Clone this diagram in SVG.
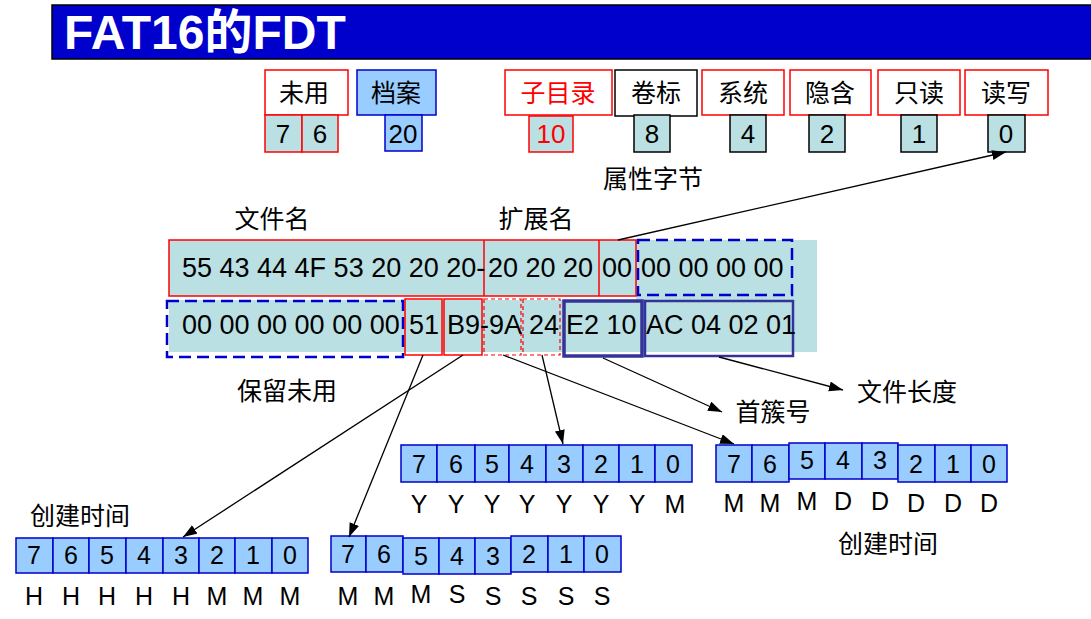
<svg xmlns="http://www.w3.org/2000/svg" width="1091" height="619" viewBox="0 0 1091 619">
<style>
.cjk{font-family:"Noto Sans CJK SC","Noto Sans",sans-serif;font-size:25px;fill:#000;text-anchor:middle}
.lbl{font-family:"Noto Sans CJK SC","Noto Sans",sans-serif;font-size:25px;fill:#000;text-anchor:middle}
.num{font-family:"Liberation Sans",Arial,sans-serif;font-size:26px;fill:#000;text-anchor:middle}
.hex{font-family:"Liberation Sans",Arial,sans-serif;font-size:27px;fill:#000}
.bit{font-family:"Liberation Sans",Arial,sans-serif;font-size:25px;fill:#000;text-anchor:middle}
.red{fill:#FF0000}
.teal{fill:#BAE0E3}
.rbox{fill:#fff;stroke:#FF0000;stroke-width:1.5}
.rval{fill:#BAE0E3;stroke:#FF0000;stroke-width:1.5}
.kval{fill:#BAE0E3;stroke:#000;stroke-width:1.5}
.bbox{fill:#99CCFF;stroke:#0000CC;stroke-width:1.5}
.cell{fill:#99CCFF;stroke:#0000CC;stroke-width:1.5}
.conn{stroke:#000;stroke-width:1.3;fill:none;marker-end:url(#ah)}
</style>
<defs>
<marker id="ah" markerUnits="userSpaceOnUse" markerWidth="16" markerHeight="12" refX="14" refY="5" orient="auto">
<path d="M0,0 L14,5 L0,10 Z" fill="#000"/>
</marker>
</defs>

<g id="title">
<rect x="52" y="5" width="1045" height="54" fill="#0000CC" stroke="#000" stroke-width="1.5"/>
<text x="64" y="49" font-family="'Liberation Sans','Noto Sans CJK SC',Arial,sans-serif" font-size="48" font-weight="bold" fill="#fff">FAT16的FDT</text>
</g>

<g id="attr-unused">
<rect class="rbox" x="265" y="70" width="83" height="45"/>
<text class="cjk" x="304" y="102">未用</text>
<rect class="rval" x="265" y="115" width="37" height="37"/>
<rect class="rval" x="302" y="115" width="36" height="37"/>
<text class="num" x="283" y="143">7</text>
<text class="num" x="320" y="143">6</text>
</g>
<g id="attr-archive">
<rect class="bbox" x="357" y="70" width="79" height="45"/>
<text class="cjk" x="396" y="102">档案</text>
<rect class="bbox" x="385" y="115" width="37" height="36"/>
<text class="num" x="403" y="143">20</text>
</g>
<g id="attr-subdir">
<rect class="rbox" x="505" y="70" width="107" height="45"/>
<text class="cjk red" x="558" y="102">子目录</text>
<rect class="rval" x="529" y="116" width="44" height="36"/>
<text class="num red" x="551" y="143">10</text>
</g>
<g id="attr-volume">
<rect x="615" y="70" width="82" height="46" fill="#fff" stroke="#000" stroke-width="1.5"/>
<text class="cjk" x="656" y="102">卷标</text>
<rect class="kval" x="634" y="115" width="36" height="37"/>
<text class="num" x="652" y="143">8</text>
</g>
<g id="attr-system">
<rect class="rbox" x="702" y="70" width="82" height="45"/>
<text class="cjk" x="743" y="102">系统</text>
<rect class="kval" x="730" y="115" width="36" height="37"/>
<text class="num" x="748" y="143">4</text>
</g>
<g id="attr-hidden">
<rect class="rbox" x="790" y="70" width="81" height="45"/>
<text class="cjk" x="830" y="102">隐含</text>
<rect class="kval" x="809" y="115" width="36" height="37"/>
<text class="num" x="827" y="143">2</text>
</g>
<g id="attr-readonly">
<rect class="rbox" x="878" y="70" width="82" height="45"/>
<text class="cjk" x="919" y="102">只读</text>
<rect class="kval" x="901" y="115" width="36" height="37"/>
<text class="num" x="919" y="143">1</text>
</g>
<g id="attr-readwrite">
<rect class="rbox" x="965" y="70" width="83" height="45"/>
<text class="cjk" x="1006" y="102">读写</text>
<rect class="kval" x="988" y="115" width="37" height="37"/>
<text class="num" x="1006" y="143">0</text>
</g>
<g id="label-attr"><text class="lbl" x="653" y="188">属性字节</text></g>
<g id="label-name"><text class="lbl" x="272" y="228">文件名</text></g>
<g id="label-ext"><text class="lbl" x="536" y="228">扩展名</text></g>

<g id="fdt-bytes">
<rect class="teal" x="169" y="240" width="467" height="56"/>
<rect class="teal" x="169" y="300" width="467" height="52"/>
<rect class="teal" x="636" y="240" width="181" height="112"/>
<rect x="169" y="240" width="467" height="56" fill="none" stroke="#FF0000" stroke-width="1.5"/>
<line x1="484" y1="240" x2="484" y2="296" stroke="#FF0000" stroke-width="1.5"/>
<line x1="599" y1="240" x2="599" y2="296" stroke="#FF0000" stroke-width="1.5"/>
<rect x="638" y="240" width="154" height="55" fill="none" stroke="#0000CC" stroke-width="2.5" stroke-dasharray="12,6"/>
<text class="hex" x="182" y="277">55 43 44 4F 53 20 20 20-</text>
<text class="hex" x="488" y="277">20 20 20</text>
<text class="hex" x="602" y="277">00</text>
<text class="hex" x="641" y="277">00 00 00 00</text>

<rect x="167" y="301" width="236" height="56" fill="none" stroke="#0000CC" stroke-width="2.5" stroke-dasharray="12,6"/>
<rect x="405" y="299" width="37" height="56" fill="none" stroke="#FF0000" stroke-width="1.5"/>
<rect x="444" y="299" width="38" height="56" fill="none" stroke="#FF0000" stroke-width="1.5"/>
<rect x="484" y="299" width="37" height="56" fill="none" stroke="#FF0000" stroke-width="1.2" stroke-dasharray="4,3"/>
<rect x="523" y="299" width="37" height="56" fill="none" stroke="#FF0000" stroke-width="1.2" stroke-dasharray="4,3"/>
<rect x="564" y="301" width="78" height="55" fill="none" stroke="#333399" stroke-width="3.5"/>
<rect x="645" y="301" width="148" height="55" fill="none" stroke="#333399" stroke-width="2.5"/>
<text class="hex" x="182" y="334">00 00 00 00 00 00</text>
<text class="hex" x="409" y="334">51</text>
<text class="hex" x="447" y="334">B9-9A</text>
<text class="hex" x="529" y="334">24</text>
<text class="hex" x="566" y="334">E2 10</text>
<text class="hex" x="646" y="334">AC 04 02 01</text>
</g>

<g id="label-reserved"><text class="lbl" x="287" y="400">保留未用</text></g>
<g id="label-cluster"><text class="lbl" x="773" y="421">首簇号</text></g>
<g id="label-size"><text class="lbl" x="907" y="401">文件长度</text></g>
<g id="label-time-right"><text class="lbl" x="888" y="553">创建时间</text></g>
<g id="label-time-left"><text class="lbl" x="80" y="525">创建时间</text></g>

<g id="bits-year">
<rect class="cell" x="401" y="445" width="36" height="37"/>
<rect class="cell" x="437" y="445" width="38" height="37"/>
<rect class="cell" x="475" y="445" width="34" height="37"/>
<rect class="cell" x="509" y="445" width="37" height="37"/>
<rect class="cell" x="546" y="445" width="37" height="37"/>
<rect class="cell" x="583" y="445" width="36" height="37"/>
<rect class="cell" x="619" y="445" width="36" height="37"/>
<rect class="cell" x="655" y="445" width="37" height="37"/>
<text class="bit" x="419" y="473">7</text><text class="bit" x="456" y="473">6</text><text class="bit" x="492" y="473">5</text><text class="bit" x="527" y="473">4</text><text class="bit" x="564" y="473">3</text><text class="bit" x="601" y="473">2</text><text class="bit" x="637" y="473">1</text><text class="bit" x="673" y="473">0</text>
<text class="bit" x="419" y="513">Y</text><text class="bit" x="456" y="513">Y</text><text class="bit" x="492" y="513">Y</text><text class="bit" x="527" y="513">Y</text><text class="bit" x="564" y="513">Y</text><text class="bit" x="601" y="513">Y</text><text class="bit" x="637" y="513">Y</text><text class="bit" x="675" y="513">M</text>
</g>

<g id="bits-date">
<rect class="cell" x="716" y="445" width="36" height="37"/>
<rect class="cell" x="752" y="445" width="37" height="37"/>
<rect class="cell" x="789" y="443" width="36" height="36"/>
<rect class="cell" x="825" y="443" width="37" height="36"/>
<rect class="cell" x="862" y="443" width="36" height="36"/>
<rect class="cell" x="898" y="445" width="37" height="37"/>
<rect class="cell" x="935" y="445" width="36" height="37"/>
<rect class="cell" x="971" y="445" width="36" height="37"/>
<text class="bit" x="734" y="473">7</text><text class="bit" x="770" y="473">6</text><text class="bit" x="807" y="469">5</text><text class="bit" x="843" y="469">4</text><text class="bit" x="880" y="469">3</text><text class="bit" x="916" y="473">2</text><text class="bit" x="953" y="473">1</text><text class="bit" x="989" y="473">0</text>
<text class="bit" x="734" y="512">M</text><text class="bit" x="770" y="512">M</text><text class="bit" x="807" y="510">M</text><text class="bit" x="843" y="510">D</text><text class="bit" x="880" y="510">D</text><text class="bit" x="916" y="512">D</text><text class="bit" x="953" y="512">D</text><text class="bit" x="989" y="512">D</text>
</g>

<g id="bits-hour">
<rect class="cell" x="16" y="538" width="37" height="35"/>
<rect class="cell" x="53" y="538" width="36" height="35"/>
<rect class="cell" x="89" y="538" width="37" height="35"/>
<rect class="cell" x="126" y="538" width="37" height="35"/>
<rect class="cell" x="163" y="538" width="36" height="35"/>
<rect class="cell" x="199" y="538" width="36" height="35"/>
<rect class="cell" x="235" y="538" width="37" height="35"/>
<rect class="cell" x="272" y="538" width="36" height="35"/>
<text class="bit" x="34" y="564">7</text><text class="bit" x="71" y="564">6</text><text class="bit" x="107" y="564">5</text><text class="bit" x="144" y="564">4</text><text class="bit" x="181" y="564">3</text><text class="bit" x="217" y="564">2</text><text class="bit" x="253" y="564">1</text><text class="bit" x="290" y="564">0</text>
<text class="bit" x="34" y="605">H</text><text class="bit" x="71" y="605">H</text><text class="bit" x="107" y="605">H</text><text class="bit" x="144" y="605">H</text><text class="bit" x="181" y="605">H</text><text class="bit" x="217" y="605">M</text><text class="bit" x="253" y="605">M</text><text class="bit" x="290" y="605">M</text>
</g>

<g id="bits-minute">
<rect class="cell" x="331" y="536" width="35" height="36"/>
<rect class="cell" x="366" y="536" width="37" height="36"/>
<rect class="cell" x="403" y="538" width="36" height="36"/>
<rect class="cell" x="439" y="538" width="36" height="36"/>
<rect class="cell" x="475" y="538" width="36" height="36"/>
<rect class="cell" x="511" y="536" width="37" height="36"/>
<rect class="cell" x="548" y="536" width="36" height="36"/>
<rect class="cell" x="584" y="536" width="37" height="36"/>
<text class="bit" x="348" y="563">7</text><text class="bit" x="384" y="563">6</text><text class="bit" x="421" y="565">5</text><text class="bit" x="457" y="565">4</text><text class="bit" x="493" y="565">3</text><text class="bit" x="529" y="563">2</text><text class="bit" x="566" y="563">1</text><text class="bit" x="602" y="563">0</text>
<text class="bit" x="348" y="605">M</text><text class="bit" x="384" y="605">M</text><text class="bit" x="421" y="603">M</text><text class="bit" x="457" y="603">S</text><text class="bit" x="493" y="605">S</text><text class="bit" x="529" y="605">S</text><text class="bit" x="566" y="605">S</text><text class="bit" x="602" y="605">S</text>
</g>

<g id="connectors">
<path class="conn" d="M618,240 L1006,152"/>
<path class="conn" d="M423,355 L349,537"/>
<path class="conn" d="M463,355 L183,537"/>
<path class="conn" d="M503,355 L734,444"/>
<path class="conn" d="M542,355 L563,444"/>
<path class="conn" d="M603,358 L722,412"/>
<path class="conn" d="M719,357 L843,390"/>
</g>
</svg>
